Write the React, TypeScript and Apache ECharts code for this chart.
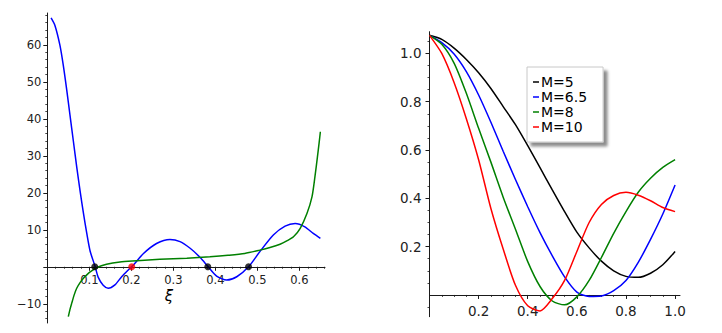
import React, { useEffect, useRef } from "react";
import * as echarts from "echarts";

// ---------- Left panel ----------
const leftBlueX = [0.009, 0.018, 0.03, 0.038, 0.046, 0.054, 0.062, 0.07, 0.078, 0.086, 0.094, 0.102, 0.114, 0.121, 0.133, 0.145, 0.161, 0.177, 0.197, 0.205, 0.229, 0.26, 0.292, 0.316, 0.34, 0.364, 0.383, 0.403, 0.427, 0.451, 0.479, 0.506, 0.538, 0.566, 0.59, 0.613, 0.633, 0.65];
const leftBlueY = [67.3, 65.3, 59.9, 54.5, 48, 41, 34, 27, 20.5, 14.5, 9.0, 4.2, 0, -2.8, -5.0, -5.8, -4.9, -2.7, -0.4, 0.5, 3.6, 6.3, 7.4, 6.8, 5.0, 2.5, 0, -2.5, -3.6, -2.7, 0, 4.1, 8.6, 11.0, 11.7, 10.8, 9.0, 7.7];
const leftGreenX = [0.05, 0.054, 0.058, 0.064, 0.07, 0.078, 0.086, 0.094, 0.102, 0.118, 0.141, 0.173, 0.213, 0.268, 0.332, 0.387, 0.43, 0.47, 0.506, 0.53, 0.554, 0.57, 0.586, 0.602, 0.618, 0.63, 0.637, 0.643, 0.647, 0.65];
const leftGreenY = [-13.5, -11.5, -9.9, -7.6, -5.8, -4.3, -3.1, -2.2, -1.4, -0.2, 0.7, 1.3, 1.6, 2.0, 2.3, 2.7, 3.1, 3.6, 4.5, 5.2, 6.1, 7.0, 8.1, 10.4, 14.4, 18.9, 24.3, 29.7, 33.5, 36.5];
const rootsBlack = [0.113, 0.382, 0.479];
const rootsRed = [0.201];
const leftXTicks = [0.1, 0.2, 0.3, 0.4, 0.5, 0.6];
const leftXMinor = [0.02, 0.04, 0.06, 0.08, 0.12, 0.14, 0.16, 0.18, 0.22, 0.24, 0.26, 0.28, 0.32, 0.34, 0.36, 0.38, 0.42, 0.44, 0.46, 0.48, 0.52, 0.54, 0.56, 0.58, 0.62, 0.64, 0.66];
const leftYTicks = [-10, 0, 10, 20, 30, 40, 50, 60];
const leftYLabels = [-10, 10, 20, 30, 40, 50, 60];
const leftYMinor = [-14, -12, -8, -6, -4, -2, 2, 4, 6, 8, 12, 14, 16, 18, 22, 24, 26, 28, 32, 34, 36, 38, 42, 44, 46, 48, 52, 54, 56, 58, 62, 64, 66, 68];
const xiLabel = "\u03be";

// ---------- Right panel ----------
const rightX = [0, 0.05, 0.1, 0.15, 0.2, 0.25, 0.3, 0.35, 0.4, 0.45, 0.5, 0.55, 0.6, 0.65, 0.7, 0.75, 0.8, 0.85, 0.9, 0.95, 1.0];
const m5 = [1.075, 1.058, 1.022, 0.975, 0.92, 0.855, 0.78, 0.705, 0.618, 0.527, 0.435, 0.345, 0.26, 0.195, 0.14, 0.1, 0.077, 0.073, 0.09, 0.125, 0.18];
const m65 = [1.075, 1.045, 0.998, 0.925, 0.828, 0.715, 0.595, 0.478, 0.365, 0.258, 0.162, 0.075, 0.012, -0.006, -0.004, 0.018, 0.06, 0.135, 0.23, 0.335, 0.455];
const m8 = [1.075, 1.038, 0.96, 0.835, 0.69, 0.55, 0.405, 0.272, 0.138, 0.035, -0.025, -0.041, -0.008, 0.06, 0.155, 0.255, 0.345, 0.425, 0.483, 0.528, 0.56];
const m10 = [1.075, 1.0, 0.88, 0.73, 0.56, 0.358, 0.19, 0.04, -0.045, -0.066, -0.015, 0.06, 0.18, 0.3, 0.375, 0.412, 0.425, 0.413, 0.39, 0.362, 0.345];
const rightNames = ["M=5", "M=6.5", "M=8", "M=10"];
const rightColors = ["#000000", "#0000ff", "#008000", "#ff0000"];
const rightXTicks = [0.2, 0.4, 0.6, 0.8, 1.0];
const rightXMinor = [0.05, 0.1, 0.15, 0.25, 0.3, 0.35, 0.45, 0.5, 0.55, 0.65, 0.7, 0.75, 0.85, 0.9, 0.95];
const rightYTicks = [0.2, 0.4, 0.6, 0.8, 1.0];
const rightYMinor = [-0.05, 0.05, 0.1, 0.15, 0.25, 0.3, 0.35, 0.45, 0.5, 0.55, 0.65, 0.7, 0.75, 0.85, 0.9, 0.95, 1.05];

const zip = (xs: number[], ys: number[]) => xs.map((x, i) => [x, ys[i]]);
const fmtMinus = (v: number) => (v < 0 ? "\u2212" + Math.abs(v) : String(v));

const axisColor = "#1a1a1a";
const font = "DejaVu Sans";

// grid geometry (pixels)
const LG = { left: 47.3, top: 13, width: 277.7, height: 310 };
const RG = { left: 429.5, top: 31.7, width: 250.5, height: 285 };
const LX = [0, 0.661];
const LY = [-15.2, 68.6];
const RX = [0, 1.02];
const RY = [-0.09, 1.09];
// distance (px) from grid bottom up to the y=0 line
const zeroOffset = (g: { height: number }, r: number[]) => (g.height * (0 - r[0])) / (r[1] - r[0]);

function mainAxis(gridIndex: number, min: number, max: number, ticks: number[], labels: number[], fmt: (v: number) => string, fontSize: number, margin: number, position: string, offset: number) {
  return {
    type: "value",
    gridIndex,
    min,
    max,
    position,
    offset,
    axisLine: { show: true, onZero: false, lineStyle: { color: axisColor, width: 1 } },
    axisTick: { show: true, customValues: ticks, length: 4, lineStyle: { color: axisColor, width: 1 } },
    axisLabel: { show: true, customValues: labels, formatter: fmt, color: "#222", fontSize, fontFamily: font, margin },
    splitLine: { show: false },
    minorTick: { show: false },
  };
}
function minorAxis(gridIndex: number, min: number, max: number, ticks: number[], position: string, offset: number) {
  return {
    type: "value",
    gridIndex,
    min,
    max,
    position,
    offset,
    axisLine: { show: false, onZero: false },
    axisTick: { show: true, customValues: ticks, length: 2, lineStyle: { color: axisColor, width: 0.8 } },
    axisLabel: { show: false },
    splitLine: { show: false },
  };
}

export default function App() {
  const ref = useRef<HTMLDivElement>(null);
  useEffect(() => {
    if (!ref.current) return;
    const chart = echarts.init(ref.current, undefined, { renderer: "svg" });
    const lOff = -zeroOffset(LG, LY);
    const rOff = -zeroOffset(RG, RY);
    const lineSeries = (name: string, data: number[][], color: string, xi: number, yi: number) => ({
      name,
      type: "line",
      xAxisIndex: xi,
      yAxisIndex: yi,
      data,
      showSymbol: false,
      symbol: "none",
      smooth: 0.25,
      lineStyle: { color, width: 1.5 },
      itemStyle: { color },
      z: 3,
    });
    chart.setOption({
      animation: false,
      backgroundColor: "#ffffff",
      grid: [
        { ...LG, containLabel: false, outerBoundsMode: "none" },
        { ...RG, containLabel: false, outerBoundsMode: "none" },
      ],
      xAxis: [
        mainAxis(0, LX[0], LX[1], leftXTicks, leftXTicks, (v) => String(v), 11.5, 7, "bottom", lOff),
        minorAxis(0, LX[0], LX[1], leftXMinor, "bottom", lOff),
        mainAxis(1, RX[0], RX[1], rightXTicks, rightXTicks, (v) => v.toFixed(1), 13.5, 9, "bottom", rOff),
        minorAxis(1, RX[0], RX[1], rightXMinor, "bottom", rOff),
      ],
      yAxis: [
        mainAxis(0, LY[0], LY[1], leftYTicks, leftYLabels, fmtMinus, 11.5, 6, "left", 0),
        minorAxis(0, LY[0], LY[1], leftYMinor, "left", 0),
        mainAxis(1, RY[0], RY[1], rightYTicks, rightYTicks, (v) => v.toFixed(1), 13.5, 8, "left", 0),
        minorAxis(1, RY[0], RY[1], rightYMinor, "left", 0),
      ],
      legend: {
        data: rightNames,
        orient: "vertical",
        left: 527,
        top: 67,
        icon: "rect",
        itemWidth: 6,
        itemHeight: 1.5,
        itemGap: 1,
        padding: [8, 16, 8, 6],
        backgroundColor: "#ffffff",
        borderColor: "#c8c8c8",
        borderWidth: 1,
        borderRadius: 0,
        shadowColor: "rgba(0,0,0,0.45)",
        shadowBlur: 3,
        shadowOffsetX: 4,
        shadowOffsetY: 4,
        textStyle: { color: "#000", fontSize: 14, fontFamily: font, padding: [0, 0, 0, -3] },
        selectedMode: false,
      },
      graphic: [
        {
          type: "text",
          x: 169,
          y: 296,
          style: {
            text: xiLabel,
            fontSize: 15,
            fontStyle: "italic",
            fontFamily: font,
            fill: "#000",
            align: "center",
            verticalAlign: "middle",
            textAlign: "center",
            textVerticalAlign: "middle",
          },
        },
      ],
      series: [
        lineSeries("blue", zip(leftBlueX, leftBlueY), "#0000ff", 0, 0),
        lineSeries("green", zip(leftGreenX, leftGreenY), "#008000", 0, 0),
        {
          name: "rootsBlack",
          type: "scatter",
          xAxisIndex: 0,
          yAxisIndex: 0,
          data: rootsBlack.map((x) => [x, 0]),
          symbolSize: 7,
          itemStyle: { color: "#000" },
          z: 5,
        },
        {
          name: "rootsRed",
          type: "scatter",
          xAxisIndex: 0,
          yAxisIndex: 0,
          data: rootsRed.map((x) => [x, 0]),
          symbolSize: 7,
          itemStyle: { color: "#ff0000" },
          z: 5,
        },
        lineSeries(rightNames[0], zip(rightX, m5), rightColors[0], 2, 2),
        lineSeries(rightNames[1], zip(rightX, m65), rightColors[1], 2, 2),
        lineSeries(rightNames[2], zip(rightX, m8), rightColors[2], 2, 2),
        lineSeries(rightNames[3], zip(rightX, m10), rightColors[3], 2, 2),
      ],
    });
    return () => chart.dispose();
  }, []);
  return <div ref={ref} style={{ position: "absolute", left: 0, top: 0, width: 722, height: 333 }} />;
}
